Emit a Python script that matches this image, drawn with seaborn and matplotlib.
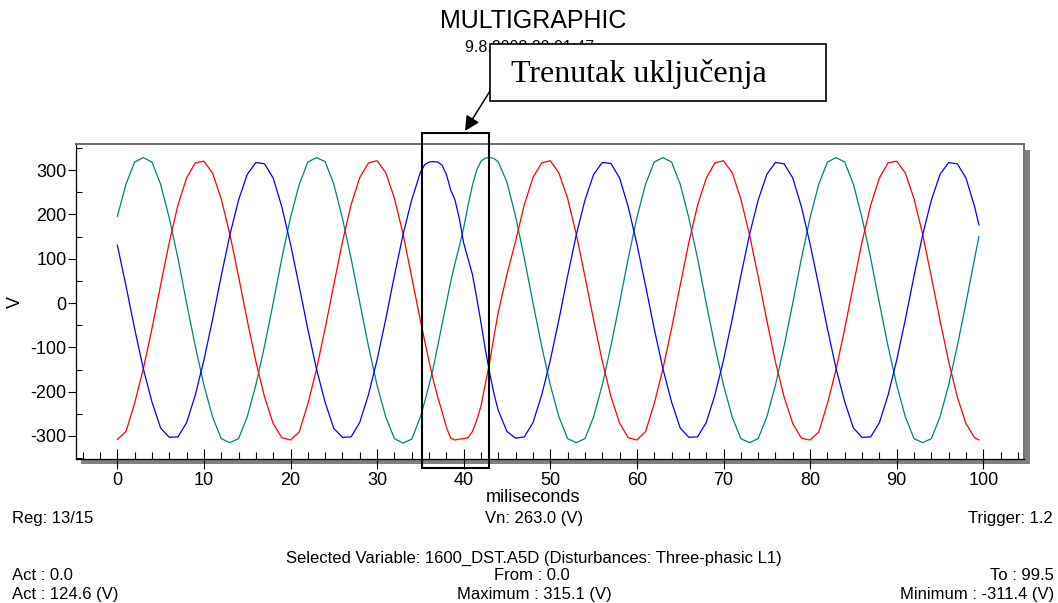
import matplotlib
matplotlib.use("Agg")
import matplotlib.pyplot as plt
import numpy as np
import pandas as pd
import seaborn as sns
from matplotlib.patches import Rectangle
from matplotlib.ticker import MultipleLocator

W, H = 1058, 603

# ---------------- data ----------------
time_a = list(range(0, 36))
time_b = [35.5, 36, 36.5, 37, 37.5, 38, 38.5, 39, 39.5, 40, 40.5, 41, 41.5, 42, 42.5, 43, 43.5, 44]
time_c = list(range(45, 100))
time_d = [99.5]

red_a = [-308, -290, -226, -149, -58, 40, 137, 221, 282, 316, 320, 293, 235, 155, 60, -39, -132, -212, -272, -304,
         -309, -291, -228, -150, -57, 41, 138, 222, 283, 316, 321, 294, 236, 156, 58, -40]
red_b = [-86, -132, -175, -212, -245, -280, -305, -309, -307, -306, -304, -290, -265, -232, -182, -133, -75, -20]
red_c = [65, 140, 222, 283, 316, 321, 293, 236, 155, 60, -38, -131, -211, -271, -304,
         -309, -290, -227, -149, -58, 40, 137, 220, 281, 316, 321, 294, 235, 154, 60, -39, -133, -212, -272, -305,
         -309, -291, -227, -150, -58, 41, 138, 221, 282, 316, 320, 293, 235, 155, 59, -39, -132, -212, -272, -304]
red_d = [-309]

blue_a = [131, 39, -58, -148, -223, -282, -303, -302, -270, -208, -129, -37, 61, 154, 232, 290, 317, 314, 282, 217,
          133, 38, -59, -149, -224, -283, -303, -302, -269, -207, -128, -36, 62, 155, 233, 295]
blue_b = [312, 318, 319, 318, 311, 290, 255, 232, 190, 135, 100, 65, 12, -45, -105, -158, -205, -243]
blue_c = [-290, -305, -302, -270, -208, -129, -37, 61, 154, 232, 290, 317, 315, 282, 217,
          133, 39, -58, -148, -223, -282, -303, -302, -270, -208, -129, -37, 61, 154, 232, 290, 317, 314, 282, 217,
          133, 39, -58, -148, -223, -282, -303, -302, -270, -208, -129, -37, 61, 154, 232, 290, 317, 314, 282, 217]
blue_d = [176]

teal_a = [195, 268, 318, 328, 318, 268, 192, 101, 0, -97, -185, -257, -306, -315, -306, -257, -185, -97, 0, 101,
          193, 267, 318, 328, 319, 268, 191, 100, 1, -97, -186, -257, -306, -316, -307, -257]
teal_b = [-222, -185, -145, -97, -48, 0, 48, 90, 128, 170, 220, 265, 300, 320, 327, 328, 326, 318]
teal_c = [272, 195, 101, 0, -97, -185, -257, -306, -315, -306, -257, -185, -97, 0, 101,
          193, 268, 318, 328, 318, 268, 192, 101, 0, -97, -185, -257, -306, -315, -306, -257, -185, -97, 0, 101,
          193, 268, 318, 328, 318, 268, 192, 101, 0, -97, -185, -257, -306, -315, -306, -257, -185, -97, 0, 101]
teal_d = [150]

phase_names = ["L3", "L2", "L1"]
phase_colors = {"L3": "#008080", "L2": "#FF0000", "L1": "#0000FF"}

x_major_ticks = [0, 10, 20, 30, 40, 50, 60, 70, 80, 90, 100]
y_major_ticks = [-300, -200, -100, 0, 100, 200, 300]

time = time_a + time_b + time_c + time_d
series = {
    "L3": teal_a + teal_b + teal_c + teal_d,
    "L2": red_a + red_b + red_c + red_d,
    "L1": blue_a + blue_b + blue_c + blue_d,
}
frames = []
for name in phase_names:
    frames.append(pd.DataFrame({"t": time, "V": series[name], "phase": name}))
df = pd.concat(frames, ignore_index=True)

# ---------------- style ----------------
sns.set_style("white")
plt.rcParams["font.family"] = ["Liberation Sans", "DejaVu Sans"]
plt.rcParams["axes.unicode_minus"] = False
plt.rcParams["text.color"] = "black"
plt.rcParams["axes.labelcolor"] = "black"
plt.rcParams["xtick.color"] = "black"
plt.rcParams["ytick.color"] = "black"

def fx(px):
    return px / W

def fy(py):
    return 1 - py / H

fig = plt.figure(figsize=(W / 100, H / 100), dpi=100)
ax = fig.add_axes([fx(76), fy(459), (1024 - 76) / W, (459 - 144) / H])

sns.lineplot(data=df, x="t", y="V", hue="phase", hue_order=phase_names,
             palette=phase_colors, estimator=None, sort=False, legend=False,
             linewidth=0.9, ax=ax)

ax.set_xlim(-4.77, 104.7)
ax.set_ylim(-351.9, 358.7)

ax.set_xticks(x_major_ticks)
ax.set_yticks(y_major_ticks)
ax.xaxis.set_minor_locator(MultipleLocator(2))
ax.yaxis.set_minor_locator(MultipleLocator(50))

ax.tick_params(axis="x", which="major", direction="inout", length=14.4, width=0.8,
               color="black", labelcolor="black", labelsize=13, pad=2, bottom=True, top=False)
ax.tick_params(axis="x", which="minor", direction="in", length=5, width=0.8,
               color="black", bottom=True, top=False)
ax.tick_params(axis="y", which="major", direction="out", length=5.8, width=0.8,
               color="black", labelcolor="black", labelsize=13, pad=1, left=True, right=False)
ax.tick_params(axis="y", which="minor", direction="in", length=4.3, width=0.8,
               color="black", left=True, right=False)

for side in ["left", "bottom"]:
    ax.spines[side].set_color("black")
    ax.spines[side].set_linewidth(0.9)
ax.spines["top"].set_color("#6a6a6a")
ax.spines["top"].set_linewidth(1.4)
ax.spines["right"].set_color("#5a5a5a")
ax.spines["right"].set_linewidth(1.2)

ax.set_xlabel("miliseconds", fontsize=13, color="black")
ax.xaxis.label.set_va("center")
ax.xaxis.set_label_coords((533 - 76) / 948, (459 - 497) / 315)
ax.set_ylabel("V", fontsize=13, color="black")
ax.yaxis.label.set_va("center")
ax.yaxis.set_label_coords((15 - 76) / 948, 0.5)

# shadow of the frame
fig.add_artist(Rectangle((fx(1025), fy(464)), 5 / W, (464 - 150) / H,
                         transform=fig.transFigure, facecolor="#808080", edgecolor="none", zorder=0))
fig.add_artist(Rectangle((fx(81), fy(464)), (1030 - 81) / W, 5 / H,
                         transform=fig.transFigure, facecolor="#808080", edgecolor="none", zorder=0))

# highlight box around the switching moment
ax.add_patch(Rectangle((35.2, -373), 42.96 - 35.2, 384 + 373, fill=False,
                       edgecolor="black", linewidth=1.5, clip_on=False, zorder=5))

# titles
fig.text(fx(533), fy(21), "MULTIGRAPHIC", ha="center", va="center", fontsize=18, color="black")
fig.text(fx(530), fy(48), "9.8.2008 20:01:47", ha="center", va="center", fontsize=11.5, color="black")

# callout box
fig.add_artist(Rectangle((fx(490), fy(101)), (826 - 490) / W, (101 - 44) / H,
                         transform=fig.transFigure, facecolor="white", edgecolor="black",
                         linewidth=1.2, zorder=10))
fig.text(fx(511), fy(74), "Trenutak uključenja", ha="left", va="center", fontsize=23,
         family=["Liberation Serif", "DejaVu Serif"], color="black", zorder=11)
ax.annotate("", xy=(fx(465), fy(131)), xycoords="figure fraction",
            xytext=(fx(490), fy(91)), textcoords="figure fraction",
            arrowprops=dict(arrowstyle="-|>", color="black", lw=1.1, mutation_scale=22,
                            shrinkA=0, shrinkB=0),
            annotation_clip=False, zorder=11)

# footer info lines
fs = 12
kw = dict(va="center", fontsize=fs, color="black")
fig.text(fx(12), fy(518), "Reg: 13/15", ha="left", **kw)
fig.text(fx(534), fy(518), "Vn: 263.0 (V)", ha="center", **kw)
fig.text(fx(1053), fy(518), "Trigger: 1.2", ha="right", **kw)
fig.text(fx(534), fy(558), "Selected Variable: 1600_DST.A5D (Disturbances: Three-phasic L1)",
         ha="center", **kw)
fig.text(fx(12), fy(576), "Act : 0.0", ha="left", **kw)
fig.text(fx(532), fy(576), "From : 0.0", ha="center", **kw)
fig.text(fx(1054), fy(576), "To : 99.5", ha="right", **kw)
fig.text(fx(12), fy(594), "Act : 124.6 (V)", ha="left", **kw)
fig.text(fx(534), fy(594), "Maximum : 315.1 (V)", ha="center", **kw)
fig.text(fx(1054), fy(594), "Minimum : -311.4 (V)", ha="right", **kw)

fig.savefig("out.png", dpi=100, facecolor="white")
